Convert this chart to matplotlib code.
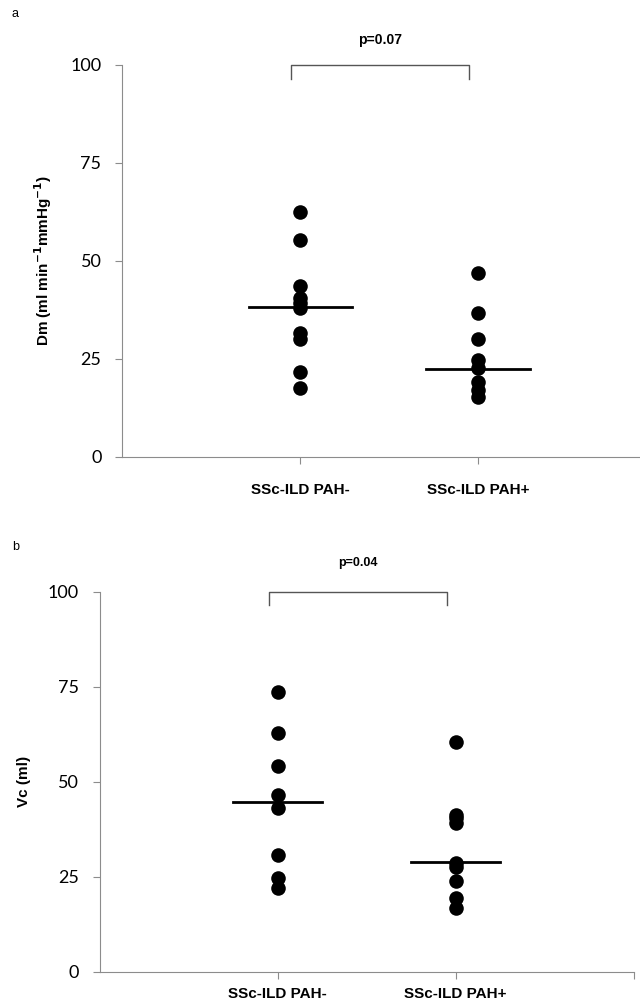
import matplotlib.pyplot as plt

# values
groups = ["SSc-ILD PAH-", "SSc-ILD PAH+"]

dm_neg = [62.5, 55.3, 43.6, 40.5, 39.2, 38.0, 31.6, 30.1, 21.6, 17.7]
dm_pos = [47.0, 36.8, 30.1, 24.7, 22.6, 19.2, 17.1, 15.3]
dm_mid = [38.3, 22.5]

vc_neg = [73.7, 62.9, 54.2, 46.6, 43.2, 30.8, 24.7, 22.1]
vc_pos = [60.5, 41.3, 40.5, 39.2, 28.7, 27.6, 24.0, 19.5, 16.9]
vc_mid = [44.7, 28.9]

yticks = [0, 25, 50, 75, 100]

grey = "#8c8c8c"


def panel(ax, neg, pos, mid, ylabel, ptext, pdy, psize, half, xpad):
    ax.scatter([1] * len(neg), neg, s=110, color="black", zorder=3, linewidths=0)
    ax.scatter([2] * len(pos), pos, s=110, color="black", zorder=3, linewidths=0)
    for i, m in enumerate(mid):
        ax.plot([i + 1 - half, i + 1 + half], [m, m], color="black", lw=2, zorder=4)
    ax.set_xlim(0, 3)
    ax.set_ylim(0, 100)
    ax.set_yticks(yticks)
    ax.set_yticklabels([str(t) for t in yticks], fontsize=13, family="Lato")
    ax.set_xticks([1, 2, 3])
    ax.set_xticklabels(groups + [""], fontsize=11, fontweight="bold", family="Liberation Sans")
    ax.tick_params(axis="y", colors=grey, labelcolor="black", length=5, pad=10)
    ax.tick_params(axis="x", colors=grey, labelcolor="black", length=5, pad=xpad)
    ax.spines["top"].set_visible(False)
    ax.spines["right"].set_visible(False)
    ax.spines["left"].set_color(grey)
    ax.spines["bottom"].set_color(grey)
    ax.set_ylabel(ylabel, fontsize=11, fontweight="bold", family="Liberation Sans", labelpad=12)
    # significance bracket
    ax.plot([0.95, 0.95, 1.95, 1.95], [96.5, 100, 100, 96.5], color="#555555", lw=1, clip_on=False)
    ax.text(1.45, 100 + pdy, ptext, ha="center", va="center", fontsize=psize,
            fontweight="bold", family="Liberation Sans")


fig = plt.figure(figsize=(6.4, 10.07), dpi=100)
axa = fig.add_axes([0.191, 0.5462, 0.834, 0.3893])
axb = fig.add_axes([0.156, 0.0348, 0.834, 0.3774])

panel(axa, dm_neg, dm_pos, dm_mid, "Dm (ml min$^{\\mathbf{-1}}$mmHg$^{\\mathbf{-1}}$)",
      "p=0.07", 6.3, 10, 0.29, 14)
panel(axb, vc_neg, vc_pos, vc_mid, "Vc (ml)", "p=0.04", 7.5, 9, 0.25, 6)

fig.text(12 / 640, 1 - 14 / 1007, "a", fontsize=9, family="Liberation Sans", va="center")
fig.text(12 / 640, 1 - 547 / 1007, "b", fontsize=9, family="Liberation Sans", va="center")

fig.savefig("out.png", dpi=100)
